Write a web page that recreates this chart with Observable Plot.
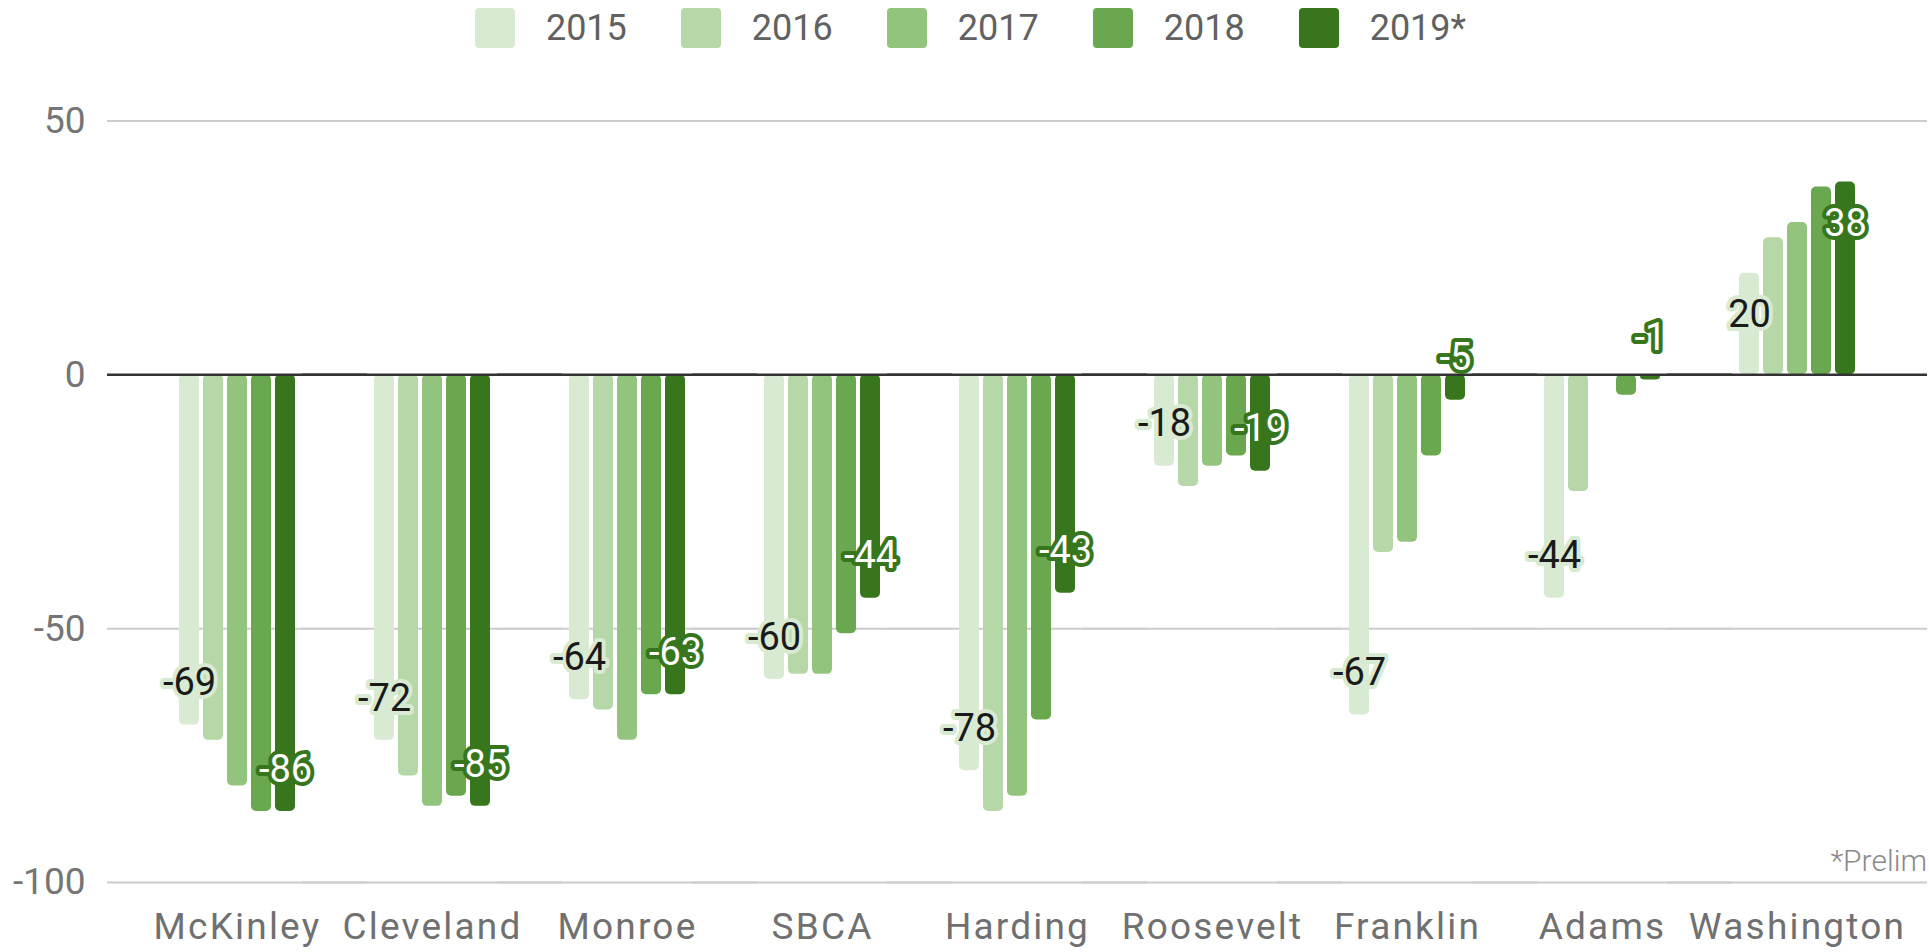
<!DOCTYPE html>
<html>
<head>
<meta charset="utf-8">
<script src="https://cdn.jsdelivr.net/npm/d3@7"></script>
<script src="https://cdn.jsdelivr.net/npm/@observablehq/plot@0.6"></script>
<style>
html, body { margin: 0; padding: 0; background: #fff; overflow: hidden; }
body { width: 1929px; height: 952px; position: relative; font-family: Roboto, sans-serif; }
#legend { display: flex; justify-content: center; align-items: center; height: 56px; padding-left: 12px; box-sizing: border-box; }
.item { display: flex; align-items: center; margin: 0 27px; font-size: 36px; color: #616161; }
.sw { width: 40px; height: 40px; border-radius: 4px; margin-right: 31px; }
#note { position: absolute; right: 2px; top: 846px; font: 300 30px Roboto; line-height: 30px; color: #8a8a8a; white-space: nowrap; }
[aria-label="fx-axis tick label"] text { letter-spacing: 2.2px; }
</style>
</head>
<body>
<div id="legend"></div>
<div id="chart"></div>
<div id="note">*Prelim</div>
<script>
const schools = ["McKinley", "Cleveland", "Monroe", "SBCA", "Harding", "Roosevelt", "Franklin", "Adams", "Washington"];
const years = ["2015", "2016", "2017", "2018", "2019*"];
const colors = ["#d9ead3", "#b6d7a8", "#93c47d", "#6aa84f", "#38761d"];
const v2015 = [-69, -72, -64, -60, -78, -18, -67, -44, 20];
const v2016 = [-72, -79, -66, -59, -86, -22, -35, -23, 27];
const v2017 = [-81, -85, -72, -59, -83, -18, -33, 0, 30];
const v2018 = [-86, -83, -63, -51, -68, -16, -16, -4, 37];
const v2019 = [-86, -85, -63, -44, -43, -19, -5, -1, 38];
const yTicks = [-100, -50, 0, 50];
const gridValues = [-100, -50, 50];

const series = [v2015, v2016, v2017, v2018, v2019];
const data = schools.flatMap((s, i) => years.map((y, k) => ({school: s, year: y, value: series[k][i]})));

// legend
const legend = document.getElementById("legend");
years.forEach((y, k) => {
  const it = document.createElement("div");
  it.className = "item";
  const sw = document.createElement("span");
  sw.className = "sw";
  sw.style.background = colors[k];
  const t = document.createElement("span");
  t.textContent = y;
  it.appendChild(sw); it.appendChild(t);
  legend.appendChild(it);
});

function labels(yr, neg, opts) {
  return Plot.text(
    data.filter(d => d.year === yr && (neg ? d.value < 0 : d.value >= 0)),
    {fx: "school", x: "year", y: "value", text: d => String(d.value),
     dy: neg ? -42 : 42, fontSize: 38, strokeWidth: 8, strokeLinejoin: "round", ...opts}
  );
}

const chart = Plot.plot({
  width: 1929,
  height: 896,
  marginTop: 64.5,
  marginBottom: 70,
  marginLeft: 105,
  marginRight: 0,
  style: {fontFamily: "Roboto, sans-serif", background: "#fff", overflow: "hidden"},
  fx: {domain: schools, paddingInner: 0.396, paddingOuter: 0.363, label: null},
  x: {domain: years, paddingInner: 0.16, paddingOuter: 0, axis: null},
  y: {domain: [-100, 50], label: null},
  color: {domain: years, range: colors},
  marks: [
    Plot.ruleY(gridValues, {stroke: "#cccccc", strokeWidth: 2, insetLeft: -71, insetRight: -71}),
    Plot.barY(data, {fx: "school", x: "year", y: "value", fill: "year", rx: 5}),
    Plot.ruleY([0], {stroke: "#333333", strokeWidth: 2.5, insetLeft: -71, insetRight: -71}),
    labels("2015", true, {fill: "#1a1a1a", stroke: colors[0]}),
    labels("2015", false, {fill: "#1a1a1a", stroke: colors[0]}),
    labels("2019*", true, {fill: "#ffffff", stroke: colors[4]}),
    labels("2019*", false, {fill: "#ffffff", stroke: colors[4]}),
    Plot.axisY({ticks: yTicks, tickFormat: d => String(d), tickSize: 0, tickPadding: 93, fontSize: 37, color: "#757575", label: null}),
    Plot.axisFx({anchor: "bottom", tickSize: 0, tickPadding: 30, fontSize: 37, color: "#707070", label: null})
  ]
});
document.getElementById("chart").appendChild(chart);
</script>
</body>
</html>
